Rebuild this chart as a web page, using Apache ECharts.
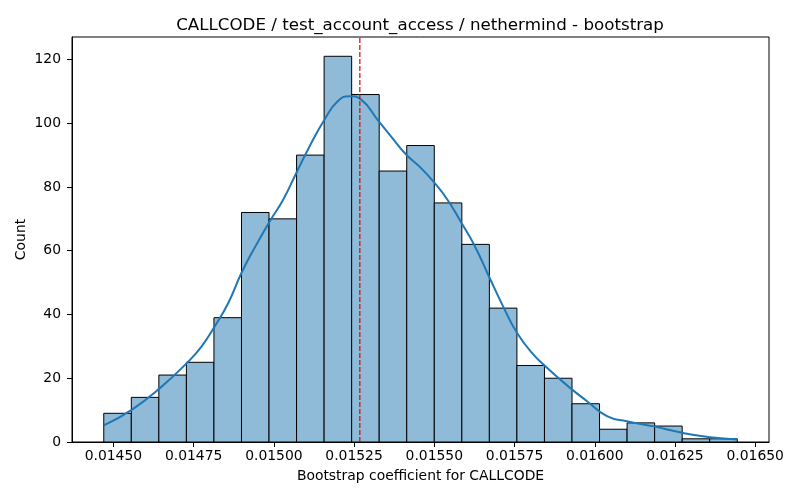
<!DOCTYPE html>
<html>
<head>
<meta charset="utf-8">
<script src="https://cdn.jsdelivr.net/npm/echarts@6/dist/echarts.min.js"></script>
<style>
html,body{margin:0;padding:0;background:#fff;}
#chart{width:800px;height:500px;}
</style>
</head>
<body>
<div id="chart"></div>
<script>
// ---- data ----
const titleText = 'CALLCODE / test_account_access / nethermind - bootstrap';
const xAxisName = 'Bootstrap coefficient for CALLCODE';
const yAxisName = 'Count';
const binStart = 0.01447;
const binWidth = 0.00008583;
const binCounts = [9, 14, 21, 25, 39, 72, 70, 90, 121, 109, 85, 93, 75, 62, 42, 24, 20, 12, 4, 6, 5, 1, 1];
const kdeX = [0.014470, 0.014557, 0.014645, 0.014734, 0.014775, 0.014816, 0.014858, 0.014899, 0.014940, 0.014987,
              0.015029, 0.015070, 0.015106, 0.015158, 0.015199, 0.015235, 0.015272, 0.015324, 0.015365, 0.015412,
              0.015458, 0.015499, 0.015541, 0.015582, 0.015624, 0.015670, 0.015717, 0.015758, 0.015805, 0.015852,
              0.015924, 0.015976, 0.016038, 0.016100, 0.016183, 0.016276, 0.016359, 0.016444];
const kdeY = [5.2, 10.1, 16.9, 25.3, 30.0, 36.3, 43.6, 53.0, 60.9, 69.2,
              76.0, 84.4, 91.7, 101.2, 106.9, 108.5, 107.4, 101.0, 95.9, 90.2,
              86.0, 81.5, 76.0, 69.2, 61.9, 52.0, 42.0, 34.2, 27.9, 23.2,
              16.9, 12.8, 8.1, 6.5, 4.9, 2.8, 1.5, 0.8];
const meanLine = 0.015268;
const xTicks = [0.01450, 0.01475, 0.01500, 0.01525, 0.01550, 0.01575, 0.01600, 0.01625, 0.01650];
const yTicks = [0, 20, 40, 60, 80, 100, 120];
const xMin = 0.014371, xMax = 0.016543;
const yMin = 0, yMax = 127.05;

// ---- build ----
const barData = binCounts.map((c, i) => [binStart + i * binWidth, binStart + (i + 1) * binWidth, c]);
const kdeData = kdeX.map((x, i) => [x, kdeY[i]]);
const meanData = [[meanLine, yMin], [meanLine, yMax]];
const font = 'DejaVu Sans';

const chart = echarts.init(document.getElementById('chart'), null, {renderer: 'canvas'});
chart.setOption({
  animation: false,
  backgroundColor: '#ffffff',
  title: {
    text: titleText,
    left: 415, textAlign: 'center', top: 12,
    textStyle: {fontFamily: font, fontSize: 16.7, fontWeight: 'normal', color: '#000'}
  },
  grid: {left: 72, right: 31, top: 37, bottom: 58, show: true, borderColor: '#000', borderWidth: 1, backgroundColor: 'transparent'},
  xAxis: {
    type: 'value', min: xMin, max: xMax,
    name: xAxisName, nameLocation: 'middle', nameGap: 27, nameMoveOverlap: false,
    nameTextStyle: {fontFamily: font, fontSize: 13.9, color: '#000'},
    axisLine: {show: true, lineStyle: {color: '#000', width: 1}},
    axisTick: {show: true, length: 5, inside: false, lineStyle: {color: '#000'}, customValues: xTicks},
    axisLabel: {show: true, margin: 7, fontFamily: font, fontSize: 13.9, color: '#000', customValues: xTicks,
                formatter: v => v.toFixed(5)},
    splitLine: {show: false}
  },
  yAxis: {
    type: 'value', min: yMin, max: yMax,
    name: yAxisName, nameLocation: 'middle', nameGap: 44, nameRotate: 90, nameMoveOverlap: false,
    nameTextStyle: {fontFamily: font, fontSize: 13.9, color: '#000'},
    axisLine: {show: true, lineStyle: {color: '#000', width: 1}},
    axisTick: {show: true, length: 5, inside: false, lineStyle: {color: '#000'}, customValues: yTicks},
    axisLabel: {show: true, margin: 11, fontFamily: font, fontSize: 13.9, color: '#000', customValues: yTicks},
    splitLine: {show: false}
  },
  series: [
    {
      type: 'custom',
      name: 'hist',
      data: barData,
      encode: {x: [0, 1], y: 2},
      z: 2,
      renderItem: function (params, api) {
        const p0 = api.coord([api.value(0), api.value(2)]);
        const p1 = api.coord([api.value(1), 0]);
        return {
          type: 'rect',
          shape: {x: p0[0], y: p0[1], width: p1[0] - p0[0], height: p1[1] - p0[1]},
          style: {fill: '#8fbbd9', stroke: '#000', lineWidth: 1}
        };
      }
    },
    {
      type: 'line',
      name: 'kde',
      data: kdeData,
      smooth: true,
      showSymbol: false,
      symbol: 'none',
      z: 3,
      lineStyle: {color: '#1f77b4', width: 2}
    },
    {
      type: 'line',
      name: 'mean',
      data: meanData,
      showSymbol: false,
      symbol: 'none',
      z: 4,
      lineStyle: {color: '#e00000', type: [5, 2], width: 1.2}
    }
  ]
});
</script>
</body>
</html>
